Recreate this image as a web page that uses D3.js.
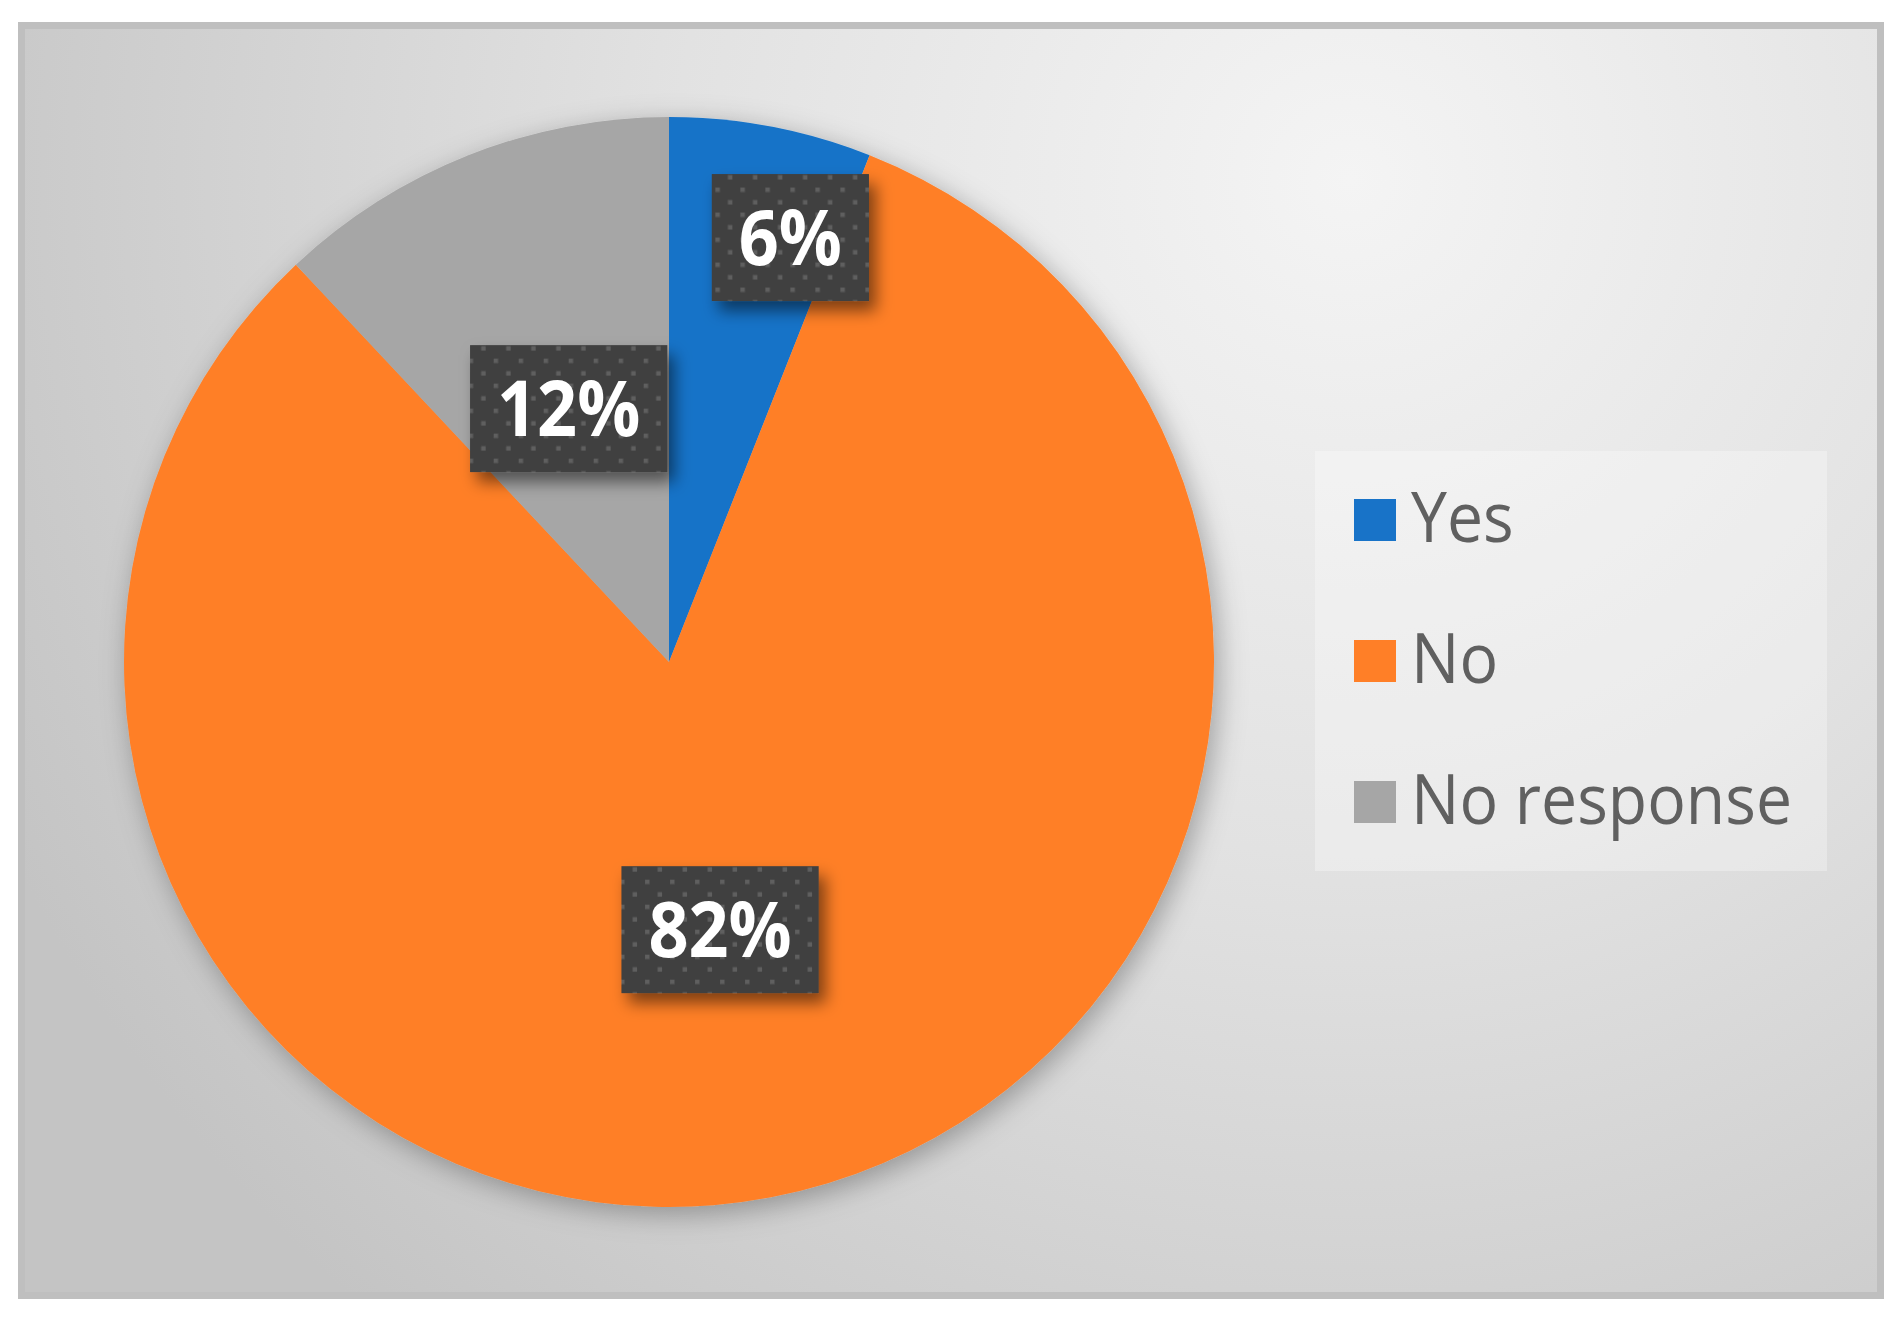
<!DOCTYPE html>
<html>
<head>
<meta charset="utf-8">
<script src="https://cdn.jsdelivr.net/npm/d3@7"></script>
<style>
  html, body { margin: 0; padding: 0; background: #ffffff; }
  svg { display: block; }
</style>
</head>
<body>
<div id="chart"></div>
<script>
// chart data
var categories = ["Yes", "No", "No response"];
var values = [6, 82, 12];
var labels = ["6%", "82%", "12%"];
var colors = ["#1873c8", "#ff7f27", "#a6a6a6"];

var W = 1900, H = 1317;
var cx = 669, cy = 662, R = 545;

var svg = d3.select("#chart")
  .append("svg")
    .attr("width", W)
    .attr("height", H);

var defs = svg.append("defs");

// background gradient
var bg = defs.append("radialGradient")
    .attr("id", "bgGrad")
    .attr("gradientUnits", "userSpaceOnUse")
    .attr("cx", 1350).attr("cy", 180).attr("r", 1500);
bg.append("stop").attr("offset", "0%").attr("stop-color", "#f4f4f4");
bg.append("stop").attr("offset", "45%").attr("stop-color", "#e2e2e2");
bg.append("stop").attr("offset", "100%").attr("stop-color", "#c4c4c4");

// soft shadow for the pie
var pieShadow = defs.append("filter").attr("id", "pieShadow")
    .attr("x", "-10%").attr("y", "-10%").attr("width", "125%").attr("height", "125%");
pieShadow.append("feDropShadow")
    .attr("dx", 5).attr("dy", 7).attr("stdDeviation", 14)
    .attr("flood-color", "#000").attr("flood-opacity", 0.3);

// shadow for the data label boxes
var boxShadow = defs.append("filter").attr("id", "boxShadow")
    .attr("x", "-30%").attr("y", "-30%").attr("width", "170%").attr("height", "170%");
boxShadow.append("feDropShadow")
    .attr("dx", 7).attr("dy", 10).attr("stdDeviation", 8)
    .attr("flood-color", "#000").attr("flood-opacity", 0.5);

// dotted fill of the label boxes
var dots = defs.append("pattern")
    .attr("id", "dots")
    .attr("patternUnits", "userSpaceOnUse")
    .attr("width", 25).attr("height", 25);
dots.append("rect").attr("width", 25).attr("height", 25).attr("fill", "#404040");
dots.append("rect").attr("x", 0).attr("y", 0).attr("width", 4.5).attr("height", 4.5).attr("fill", "#5e5e5e");
dots.append("rect").attr("x", 12.5).attr("y", 12.5).attr("width", 4.5).attr("height", 4.5).attr("fill", "#5e5e5e");

// chart area with frame
svg.append("rect")
    .attr("x", 21.5).attr("y", 25.5)
    .attr("width", 1859).attr("height", 1270)
    .attr("fill", "url(#bgGrad)")
    .attr("stroke", "#bfbfbf")
    .attr("stroke-width", 7);

// pie
var pie = d3.pie().sort(null).value(function(d) { return d; });
var arcs = pie(values);
var arc = d3.arc().innerRadius(0).outerRadius(R);

var g = svg.append("g")
    .attr("transform", "translate(" + cx + "," + cy + ")");

g.append("g")
    .attr("filter", "url(#pieShadow)")
  .selectAll("path")
  .data(arcs)
  .enter()
    .append("path")
    .attr("d", arc)
    .attr("fill", function(d, i) { return colors[i]; });

// label placement: fraction of radius and angle nudge (radians)
var labelRadius = [0.81, 0.5, 0.5];
var labelNudge = [0.09, 0, 0];
var sx = 0.91;

var labelG = g.selectAll("g.lbl")
  .data(arcs)
  .enter()
    .append("g")
    .attr("class", "lbl")
    .attr("transform", function(d, i) {
      var a = (d.startAngle + d.endAngle) / 2 + labelNudge[i];
      var r = R * labelRadius[i];
      return "translate(" + (Math.sin(a) * r) + "," + (-Math.cos(a) * r) + ")";
    });

labelG.each(function(d, i) {
  var lg = d3.select(this);
  var t = lg.append("text")
      .attr("text-anchor", "middle")
      .attr("dy", "0.36em")
      .attr("transform", "scale(" + sx + ",1)")
      .attr("font-family", "'Open Sans', sans-serif")
      .attr("font-weight", 700)
      .attr("font-size", 77)
      .attr("fill", "#ffffff")
      .text(labels[i]);
  var w = t.node().getComputedTextLength() * sx + 54;
  var h = 127;
  lg.insert("rect", "text")
      .attr("x", -w / 2).attr("y", -h / 2)
      .attr("width", w).attr("height", h)
      .attr("fill", "url(#dots)")
      .attr("filter", "url(#boxShadow)");
});

// legend
var legend = svg.append("g");
legend.append("rect")
    .attr("x", 1315).attr("y", 451)
    .attr("width", 512).attr("height", 420)
    .attr("fill", "#ffffff")
    .attr("fill-opacity", 0.3);

var items = legend.selectAll("g.item")
  .data(categories)
  .enter()
    .append("g")
    .attr("class", "item")
    .attr("transform", function(d, i) { return "translate(1354," + (499 + i * 141) + ")"; });

items.append("rect")
    .attr("width", 42).attr("height", 42)
    .attr("fill", function(d, i) { return colors[i]; });

items.append("text")
    .attr("transform", "translate(57,43) scale(0.932,1)")
    .attr("font-family", "'Open Sans', sans-serif")
    .attr("font-size", 69)
    .attr("fill", "#606060")
    .text(function(d) { return d; });
</script>
</body>
</html>
